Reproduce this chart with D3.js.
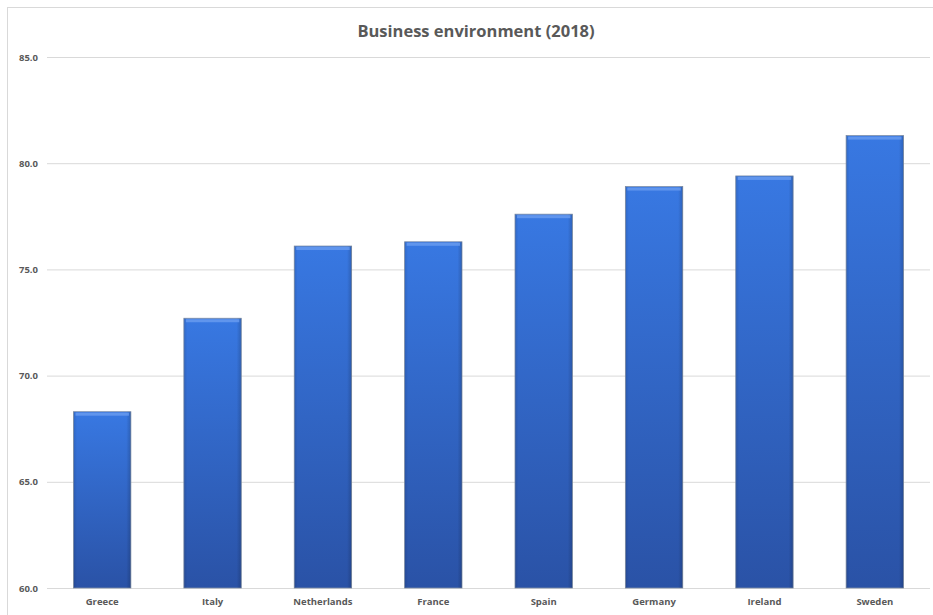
<!DOCTYPE html>
<html>
<head>
<meta charset="utf-8">
<script src="https://cdn.jsdelivr.net/npm/d3@7"></script>
<style>
  body { margin: 0; background: #fff; }
  text { font-family: "Open Sans", "Noto Sans", sans-serif; }
</style>
</head>
<body>
<div id="chart"></div>
<script>
// data
const countries = ["Greece", "Italy", "Netherlands", "France", "Spain", "Germany", "Ireland", "Sweden"];
const scores = [68.3, 72.7, 76.1, 76.3, 77.6, 78.9, 79.4, 81.3];
const yTicks = [60, 65, 70, 75, 80, 85];

const W = 933, H = 615;
const margin = {top: 57, right: 3, bottom: 27, left: 47};
const width = W - margin.left - margin.right,
      height = H - margin.top - margin.bottom;

const svg = d3.select("#chart").append("svg")
  .attr("width", W).attr("height", H);

// outer chart frame
svg.append("rect")
  .attr("x", 7.5).attr("y", 7.5)
  .attr("width", W).attr("height", H)
  .attr("fill", "none").attr("stroke", "#d9d9d9");

const defs = svg.append("defs");
const vg = defs.append("linearGradient").attr("id", "barFill")
  .attr("x1", 0).attr("y1", 0).attr("x2", 0).attr("y2", 1);
vg.append("stop").attr("offset", "0%").attr("stop-color", "#3878e2");
vg.append("stop").attr("offset", "100%").attr("stop-color", "#2a52a6");

// side shading for the bevel look
const hg = defs.append("linearGradient").attr("id", "barSide")
  .attr("x1", 0).attr("y1", 0).attr("x2", 1).attr("y2", 0);
hg.append("stop").attr("offset", "0%").attr("stop-color", "#000").attr("stop-opacity", 0.12);
hg.append("stop").attr("offset", "6%").attr("stop-color", "#000").attr("stop-opacity", 0);
hg.append("stop").attr("offset", "92%").attr("stop-color", "#000").attr("stop-opacity", 0);
hg.append("stop").attr("offset", "100%").attr("stop-color", "#000").attr("stop-opacity", 0.18);

const g = svg.append("g")
  .attr("transform", `translate(${margin.left},${margin.top})`);

const x = d3.scaleBand().domain(countries).range([0, width]).paddingInner(0.48).paddingOuter(0.24);
const y = d3.scaleLinear().domain([60, 85]).range([height, 0]);

// grid + y labels
const yAxis = g.append("g")
  .call(d3.axisLeft(y).tickValues(yTicks).tickFormat(d3.format(".1f")).tickSize(-width).tickPadding(9));
yAxis.select(".domain").remove();
yAxis.selectAll("line").attr("stroke", "#d9d9d9");
yAxis.selectAll("text")
  .attr("fill", "#595959").attr("font-size", 9.5).attr("font-weight", "bold");

// x labels
const xAxis = g.append("g")
  .attr("transform", `translate(0,${height})`)
  .call(d3.axisBottom(x).tickSize(0).tickPadding(10));
xAxis.select(".domain").remove();
xAxis.selectAll("text")
  .attr("fill", "#595959").attr("font-size", 9.5).attr("font-weight", "bold");

// bars
const bars = g.selectAll(".bar").data(countries).join("g").attr("class", "bar");
bars.append("rect")
  .attr("x", d => x(d)).attr("width", x.bandwidth())
  .attr("y", (d, i) => y(scores[i])).attr("height", (d, i) => height - y(scores[i]))
  .attr("fill", "url(#barFill)")
  .attr("stroke", "#8090a8").attr("stroke-width", 0.8);
bars.append("rect")
  .attr("x", d => x(d)).attr("width", x.bandwidth())
  .attr("y", (d, i) => y(scores[i])).attr("height", (d, i) => height - y(scores[i]))
  .attr("fill", "url(#barSide)");
// top highlight
bars.append("rect")
  .attr("x", d => x(d) + 2).attr("width", x.bandwidth() - 4)
  .attr("y", (d, i) => y(scores[i]) + 1).attr("height", 3)
  .attr("fill", "#6a9cf0").attr("opacity", 0.8);

// title
svg.append("text")
  .attr("x", 476).attr("y", 37)
  .attr("text-anchor", "middle")
  .attr("font-size", 16.5).attr("font-weight", "bold")
  .attr("fill", "#595959")
  .text("Business environment (2018)");
</script>
</body>
</html>
